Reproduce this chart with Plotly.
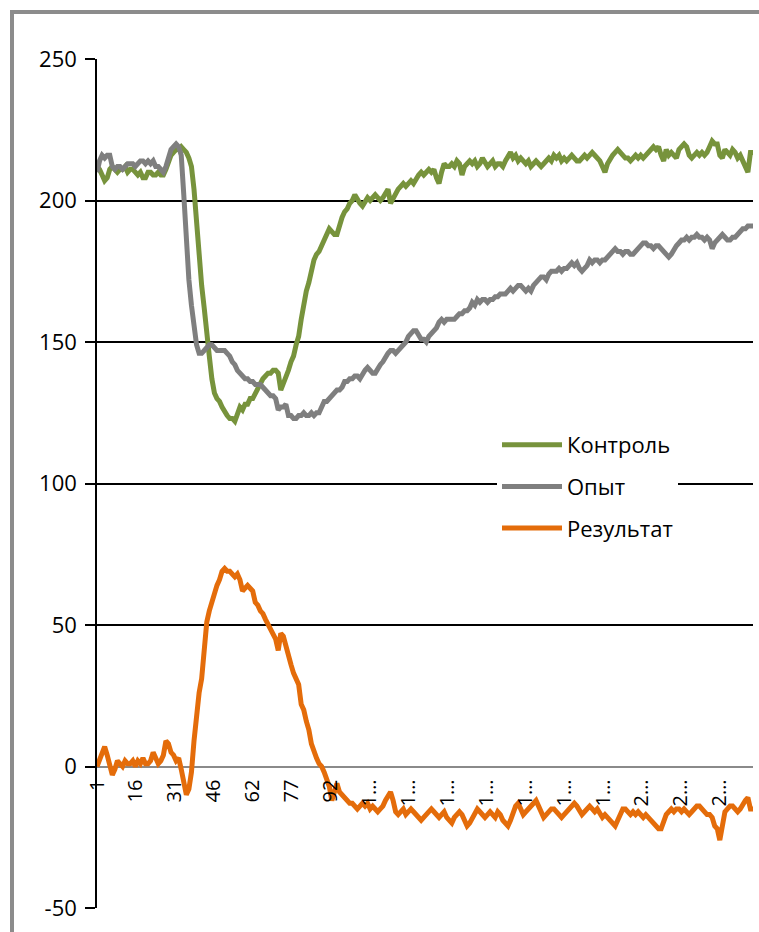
import plotly.graph_objects as go

# Series read per sample (index 1..258)
control = [
    212, 211, 209, 207, 208, 211, 212, 211, 210, 211,
    211, 212, 210, 211, 211, 210, 209, 210, 208, 208,
    210, 210, 209, 209, 210, 209, 209, 211, 214, 216,
    217, 218, 218, 219, 218, 217, 215, 212, 204, 192,
    180, 170, 162, 152, 145, 137, 132, 130, 129, 127,
    125, 124, 123, 123, 122, 124, 127, 126, 128, 128,
    130, 130, 132, 134, 135, 137, 138, 139, 139, 140,
    140, 139, 133, 135, 138, 140, 143, 145, 149, 152,
    158, 164, 168, 171, 175, 179, 181, 182, 184, 186,
    189, 190, 189, 188, 188, 192, 194, 196, 197, 199,
    200, 202, 200, 199, 198, 200, 201, 200, 201, 202,
    201, 200, 201, 203, 204, 199, 201, 203, 204, 205,
    206, 205, 206, 207, 206, 208, 209, 210, 209, 210,
    211, 210, 211, 208, 206, 210, 213, 212, 212, 213,
    212, 214, 213, 209, 212, 213, 214, 213, 214, 212,
    213, 215, 213, 212, 213, 214, 212, 213, 213, 212,
    214, 216, 217, 215, 216, 214, 215, 214, 213, 214,
    212, 213, 214, 213, 212, 213, 214, 215, 214, 216,
    215, 216, 214, 215, 214, 215, 216, 215, 214, 214,
    215, 216, 215, 216, 217, 216, 215, 214, 212, 210,
    213, 215, 216, 217, 218, 217, 216, 215, 215, 214,
    215, 216, 215, 216, 215, 216, 217, 218, 219, 218,
    219, 216, 214, 218, 216, 217, 216, 215, 218, 219,
    220, 219, 216, 215, 216, 217, 216, 217, 216, 217,
    219, 221, 220, 220, 216, 215, 218, 217, 216, 218,
    217, 215, 216, 214, 212, 210, 217, 217,
]

experiment = [
    210, 214, 216, 215, 216, 216, 212, 211, 212, 212,
    211, 212, 213, 213, 213, 212, 213, 214, 214, 213,
    214, 213, 214, 212, 212, 211, 210, 212, 216, 218,
    219, 220, 219, 216, 202, 186, 172, 163, 155, 149,
    146, 146, 147, 148, 149, 149, 148, 147, 147, 147,
    147, 146, 145, 143, 142, 140, 139, 138, 137, 137,
    136, 136, 135, 135, 135, 134, 133, 132, 131, 131,
    130, 126, 127, 127, 128, 124, 124, 123, 123, 124,
    124, 125, 124, 124, 125, 124, 125, 125, 127, 129,
    129, 130, 131, 132, 133, 133, 134, 136, 136, 137,
    137, 138, 138, 137, 139, 140, 141, 140, 139, 139,
    141, 142, 143, 145, 146, 147, 147, 146, 147, 148,
    149, 150, 152, 153, 154, 154, 152, 151, 151, 150,
    152, 153, 154, 155, 157, 158, 157, 158, 158, 158,
    158, 159, 160, 160, 161, 161, 162, 164, 163, 165,
    164, 165, 165, 164, 165, 165, 166, 166, 167, 167,
    167, 168, 169, 168, 169, 170, 170, 169, 168, 169,
    168, 170, 171, 172, 173, 173, 172, 174, 175, 175,
    175, 176, 175, 176, 176, 177, 178, 177, 178, 176,
    175, 176, 177, 179, 178, 179, 179, 178, 179, 179,
    180, 181, 182, 183, 182, 182, 181, 182, 182, 181,
    181, 182, 183, 184, 185, 185, 184, 184, 183, 184,
    184, 183, 182, 181, 180, 181, 183, 184, 185, 186,
    186, 187, 186, 187, 187, 188, 187, 187, 186, 187,
    186, 183, 185, 186, 187, 188, 187, 186, 186, 187,
    187, 188, 189, 190, 190, 191, 191, 191,
]

result = [
    0, 2, 5, 7, 4, 1, -3, -1, 2, 1,
    0, 2, 1, 1, 2, 0, 2, 1, 3, 1,
    1, 2, 5, 3, 1, 2, 4, 9, 8, 5,
    4, 2, 3, -1, -6, -10, -8, -2, 9, 20,
    26, 31, 44, 51, 55, 58, 62, 64, 66, 69,
    70, 69, 69, 68, 67, 68, 66, 62, 63, 64,
    63, 62, 58, 57, 55, 54, 52, 50, 48, 46,
    45, 41, 47, 46, 42, 39, 36, 33, 31, 29,
    22, 20, 16, 13, 8, 5, 3, 1, 0, -2,
    -4, -7, -12, -8, -6, -9, -10, -11, -12, -13,
    -13, -14, -15, -14, -13, -14, -13, -15, -14, -15,
    -16, -15, -14, -12, -10, -9, -12, -16, -17, -16,
    -15, -17, -16, -15, -16, -17, -18, -19, -18, -17,
    -16, -15, -16, -17, -18, -17, -16, -18, -19, -20,
    -18, -17, -16, -17, -19, -21, -20, -18, -16, -15,
    -16, -17, -18, -17, -16, -17, -18, -16, -17, -19,
    -20, -21, -19, -16, -14, -13, -15, -17, -16, -15,
    -14, -13, -12, -14, -16, -18, -17, -16, -15, -15,
    -16, -17, -18, -17, -16, -15, -14, -13, -14, -16,
    -17, -16, -15, -14, -15, -16, -15, -17, -18, -17,
    -18, -19, -20, -21, -19, -17, -15, -15, -16, -17,
    -16, -17, -16, -17, -18, -17, -18, -19, -20, -21,
    -22, -22, -19, -17, -16, -15, -16, -15, -15, -16,
    -15, -16, -17, -16, -15, -14, -14, -15, -16, -17,
    -17, -18, -21, -22, -26, -20, -16, -15, -14, -14,
    -15, -16, -15, -13, -12, -11, -15, -15,
]

# Category-axis labels as shown (long numbers truncated with an ellipsis)
x_tick_labels = ["1", "16", "31", "46", "62", "77", "92",
                 "1…", "1…", "1…", "1…", "1…", "1…", "1…",
                 "2…", "2…", "2…"]
label_step = 15.25

series_names = ["Контроль", "Опыт", "Результат"]
series_colors = ["#77933C", "#7F7F7F", "#E46C0A"]

y_ticks = [-50, 0, 50, 100, 150, 200, 250]
y_tick_labels = ["-50", "0", "50", "100", "150", "200", "250"]

W, H = 759, 932
ML, MR, MT, MB = 97, 6, 59, 24
plot_w = W - ML - MR
plot_h = H - MT - MB


def px_x(px):
    return (px - ML) / plot_w


def px_y(py):
    return (H - MB - py) / plot_h


n = len(control)
x = list(range(1, n + 1))

fig = go.Figure()
for i, (name, vals, col) in enumerate(zip(series_names, [control, experiment, result], series_colors)):
    fig.add_trace(go.Scatter(
        x=x, y=vals, mode="lines", name=name,
        line=dict(color=col, width=5),
        legendgroup=f"g{i}",
    ))

y_min, y_max = y_ticks[0], y_ticks[-1]
zero_pos = (0 - y_min) / (y_max - y_min)

fig.update_layout(
    width=W, height=H,
    margin=dict(l=ML, r=MR, t=MT, b=MB),
    paper_bgcolor="white", plot_bgcolor="white",
    font=dict(family="Open Sans", color="#000000"),
    showlegend=True,
    legend=dict(
        x=px_x(497), y=px_y(424), xanchor="left", yanchor="top",
        bgcolor="white", borderwidth=0,
        font=dict(size=22, family="Open Sans", color="#000000"),
        traceorder="grouped", tracegroupgap=10, itemwidth=60,
    ),
    xaxis=dict(
        range=[1, n],
        anchor="free", position=zero_pos,
        tickmode="array",
        tickvals=[1 + k * label_step for k in range(len(x_tick_labels))],
        ticktext=x_tick_labels,
        tickangle=-90,
        tickfont=dict(size=20, family="Open Sans", color="#000000"),
        showgrid=False, zeroline=False, showline=False, ticks="",
        ticklabelstandoff=8,
    ),
    yaxis=dict(
        range=[y_min, y_max],
        tickmode="array", tickvals=y_ticks, ticktext=y_tick_labels,
        tickfont=dict(size=22, family="Open Sans", color="#000000"),
        showgrid=True, gridcolor="#000000", gridwidth=1.5,
        zeroline=True, zerolinecolor="#8A8A8A", zerolinewidth=1.5,
        showline=True, linecolor="#000000", linewidth=1.5,
        ticks="outside", ticklen=10, tickcolor="#000000", tickwidth=1.5,
        ticklabelstandoff=4,
    ),
    shapes=[dict(
        type="rect", xref="paper", yref="paper",
        x0=px_x(12), x1=px_x(772), y0=px_y(960), y1=px_y(12),
        line=dict(color="#8C8C8C", width=4), fillcolor="rgba(0,0,0,0)",
        layer="above",
    )],
)

fig.write_html("out.html")
